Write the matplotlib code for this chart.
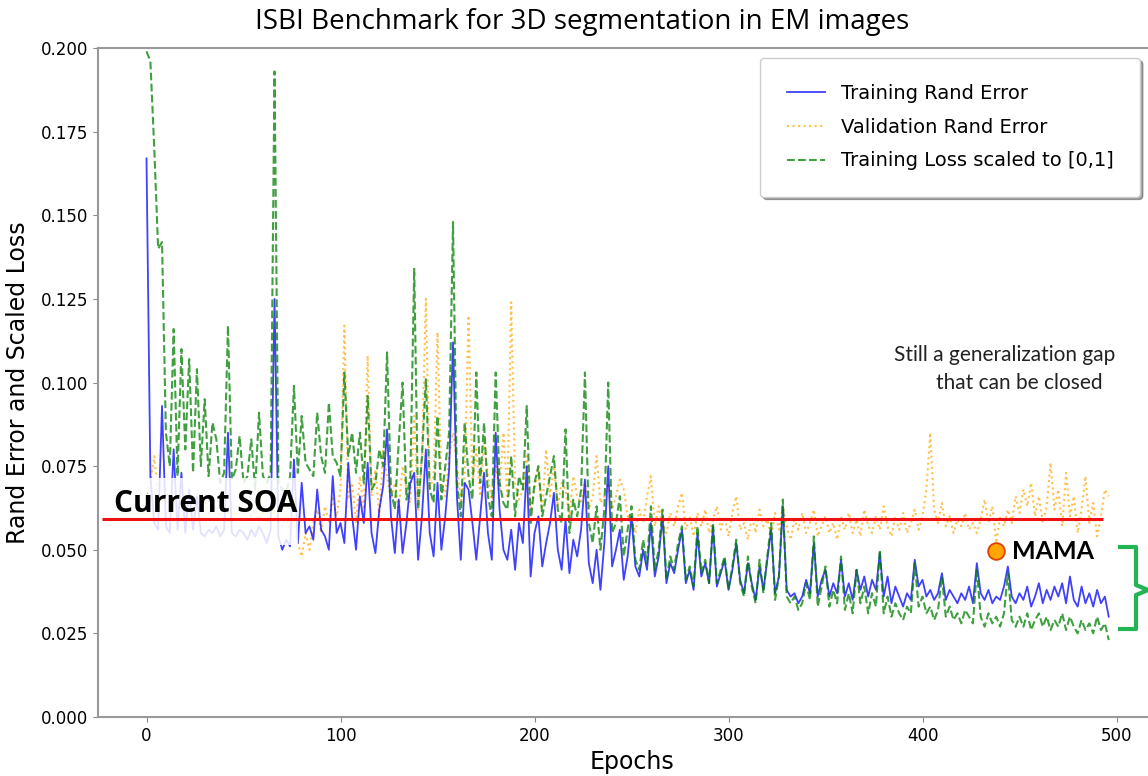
import numpy as np
import matplotlib
matplotlib.use("Agg")
import matplotlib.pyplot as plt
from matplotlib.patches import Rectangle
from matplotlib.lines import Line2D

# epochs sampled every 2
epochs = np.arange(0, 498, 2)

train_rand = [
    0.167, 0.072, 0.058, 0.056, 0.093, 0.057, 0.055, 0.080, 0.056, 0.073, 0.055, 0.068, 0.056, 0.066, 0.055, 0.054, 0.056, 0.055, 0.057, 0.054, 0.056, 0.085, 0.055, 0.054, 0.056,
    0.055, 0.053, 0.056, 0.054, 0.057, 0.055, 0.052, 0.056, 0.125, 0.054, 0.050, 0.053, 0.051, 0.077, 0.052, 0.070, 0.055, 0.057, 0.053, 0.068, 0.056, 0.054, 0.050, 0.072, 0.055,
    0.058, 0.052, 0.076, 0.060, 0.050, 0.066, 0.058, 0.076, 0.055, 0.049, 0.062, 0.069, 0.086, 0.060, 0.049, 0.065, 0.049, 0.058, 0.070, 0.073, 0.047, 0.060, 0.080, 0.055, 0.048,
    0.070, 0.050, 0.060, 0.074, 0.112, 0.066, 0.047, 0.070, 0.068, 0.058, 0.047, 0.060, 0.073, 0.055, 0.047, 0.085, 0.062, 0.050, 0.047, 0.056, 0.044, 0.058, 0.052, 0.075, 0.042,
    0.055, 0.060, 0.045, 0.052, 0.058, 0.067, 0.050, 0.044, 0.059, 0.043, 0.053, 0.048, 0.056, 0.071, 0.046, 0.040, 0.050, 0.038, 0.052, 0.075, 0.045, 0.050, 0.056, 0.041, 0.048,
    0.060, 0.045, 0.042, 0.050, 0.044, 0.058, 0.042, 0.048, 0.060, 0.040, 0.046, 0.043, 0.050, 0.056, 0.040, 0.044, 0.038, 0.055, 0.042, 0.046, 0.040, 0.057, 0.039, 0.043, 0.047,
    0.038, 0.044, 0.052, 0.041, 0.037, 0.046, 0.040, 0.035, 0.045, 0.038, 0.047, 0.056, 0.037, 0.042, 0.063, 0.038, 0.036, 0.037, 0.034, 0.036, 0.041, 0.037, 0.052, 0.036, 0.041,
    0.044, 0.036, 0.040, 0.037, 0.047, 0.036, 0.040, 0.035, 0.044, 0.038, 0.042, 0.036, 0.041, 0.038, 0.049, 0.036, 0.042, 0.034, 0.039, 0.036, 0.033, 0.037, 0.035, 0.047, 0.039,
    0.041, 0.036, 0.038, 0.035, 0.037, 0.043, 0.035, 0.038, 0.036, 0.034, 0.037, 0.035, 0.039, 0.034, 0.046, 0.037, 0.035, 0.038, 0.034, 0.036, 0.035, 0.039, 0.045, 0.036, 0.034,
    0.037, 0.035, 0.039, 0.033, 0.036, 0.040, 0.034, 0.038, 0.035, 0.039, 0.036, 0.040, 0.034, 0.042, 0.035, 0.033, 0.039, 0.034, 0.037, 0.033, 0.038, 0.034, 0.036, 0.030,
]

val_rand = [
    0.065, 0.070, 0.078, 0.066, 0.064, 0.068, 0.063, 0.066, 0.062, 0.065, 0.064, 0.061, 0.066, 0.063, 0.062, 0.065, 0.061, 0.064, 0.062, 0.060, 0.063, 0.061, 0.064, 0.060, 0.062,
    0.061, 0.063, 0.060, 0.062, 0.059, 0.061, 0.058, 0.060, 0.062, 0.058, 0.057, 0.060, 0.056, 0.060, 0.052, 0.048, 0.055, 0.050, 0.058, 0.062, 0.055, 0.063, 0.058, 0.066, 0.060,
    0.068, 0.117, 0.065, 0.070, 0.058, 0.072, 0.062, 0.108, 0.066, 0.074, 0.060, 0.080, 0.072, 0.065, 0.070, 0.062, 0.075, 0.068, 0.064, 0.090, 0.062, 0.078, 0.125, 0.068, 0.072,
    0.115, 0.070, 0.066, 0.078, 0.085, 0.076, 0.064, 0.072, 0.120, 0.070, 0.080, 0.066, 0.082, 0.072, 0.064, 0.075, 0.068, 0.085, 0.066, 0.124, 0.070, 0.065, 0.068, 0.078, 0.062,
    0.068, 0.074, 0.062, 0.080, 0.066, 0.075, 0.063, 0.070, 0.068, 0.060, 0.072, 0.066, 0.064, 0.070, 0.062, 0.066, 0.078, 0.064, 0.066, 0.070, 0.062, 0.066, 0.071, 0.068, 0.060,
    0.060, 0.055, 0.062, 0.058, 0.066, 0.072, 0.057, 0.063, 0.058, 0.055, 0.061, 0.057, 0.063, 0.067, 0.056, 0.060, 0.054, 0.061, 0.057, 0.062, 0.055, 0.059, 0.063, 0.056, 0.060,
    0.054, 0.061, 0.066, 0.056, 0.058, 0.053, 0.060, 0.055, 0.062, 0.057, 0.059, 0.054, 0.061, 0.056, 0.063, 0.057, 0.053, 0.059, 0.056, 0.061, 0.055, 0.058, 0.062, 0.054, 0.057,
    0.060, 0.055, 0.058, 0.053, 0.060, 0.056, 0.061, 0.055, 0.059, 0.054, 0.062, 0.057, 0.055, 0.060, 0.056, 0.063, 0.057, 0.054, 0.060, 0.056, 0.061, 0.055, 0.058, 0.062, 0.056,
    0.060, 0.068, 0.085, 0.062, 0.058, 0.064, 0.057, 0.060, 0.055, 0.059, 0.057, 0.061, 0.056, 0.058, 0.055, 0.059, 0.065, 0.058, 0.063, 0.052, 0.060, 0.057, 0.062, 0.058, 0.066,
    0.061, 0.068, 0.063, 0.070, 0.060, 0.066, 0.058, 0.063, 0.076, 0.062, 0.068, 0.057, 0.073, 0.060, 0.066, 0.055, 0.062, 0.072, 0.058, 0.064, 0.054, 0.060, 0.068, 0.066,
]

train_loss = [
    0.199, 0.196, 0.170, 0.140, 0.142, 0.085, 0.075, 0.116, 0.072, 0.110, 0.080, 0.107, 0.073, 0.104, 0.075, 0.095, 0.072, 0.088, 0.083, 0.070, 0.073, 0.117, 0.071, 0.074, 0.084,
    0.070, 0.072, 0.083, 0.068, 0.091, 0.072, 0.070, 0.073, 0.193, 0.070, 0.068, 0.067, 0.072, 0.099, 0.073, 0.090, 0.076, 0.074, 0.072, 0.091, 0.078, 0.073, 0.094, 0.078, 0.076,
    0.072, 0.103, 0.078, 0.085, 0.073, 0.085, 0.070, 0.096, 0.068, 0.070, 0.080, 0.075, 0.109, 0.068, 0.062, 0.082, 0.100, 0.065, 0.072, 0.134, 0.062, 0.078, 0.101, 0.068, 0.064,
    0.090, 0.065, 0.075, 0.085, 0.148, 0.070, 0.060, 0.088, 0.072, 0.065, 0.103, 0.070, 0.088, 0.066, 0.060, 0.103, 0.070, 0.064, 0.062, 0.078, 0.060, 0.072, 0.068, 0.093, 0.058,
    0.070, 0.075, 0.060, 0.066, 0.072, 0.078, 0.062, 0.058, 0.086, 0.055, 0.065, 0.060, 0.068, 0.103, 0.058, 0.052, 0.063, 0.050, 0.062, 0.100, 0.055, 0.058, 0.066, 0.048, 0.056,
    0.063, 0.047, 0.044, 0.053, 0.046, 0.063, 0.044, 0.050, 0.062, 0.041, 0.048, 0.044, 0.052, 0.057, 0.041, 0.045, 0.039, 0.057, 0.043, 0.047, 0.040, 0.058, 0.040, 0.044, 0.048,
    0.038, 0.045, 0.053, 0.040, 0.036, 0.048, 0.039, 0.034, 0.047, 0.037, 0.048, 0.058, 0.035, 0.042, 0.065, 0.036, 0.034, 0.036, 0.032, 0.034, 0.040, 0.035, 0.054, 0.033, 0.039,
    0.045, 0.033, 0.038, 0.034, 0.048, 0.032, 0.037, 0.031, 0.044, 0.034, 0.039, 0.031, 0.037, 0.033, 0.050, 0.031, 0.036, 0.030, 0.034, 0.031, 0.029, 0.033, 0.031, 0.046, 0.033,
    0.036, 0.031, 0.033, 0.029, 0.032, 0.042, 0.030, 0.033, 0.029, 0.031, 0.028, 0.032, 0.030, 0.028, 0.044, 0.030, 0.027, 0.031, 0.028, 0.030, 0.027, 0.031, 0.043, 0.029, 0.027,
    0.030, 0.027, 0.031, 0.026, 0.029, 0.031, 0.027, 0.030, 0.026, 0.029, 0.027, 0.031, 0.026, 0.030, 0.027, 0.025, 0.029, 0.026, 0.028, 0.025, 0.030, 0.026, 0.028, 0.023,
]

soa_value = 0.0592
soa_span = [-23, 493]
mama_epoch = [438]
mama_value = [0.0496]

W, H = 1148, 776
fig = plt.figure(figsize=(W / 100, H / 100), dpi=100)
# axes runs past the right edge of the picture (original is cropped)
ax = fig.add_axes([98 / W, 59 / H, 1067 / W, 669 / H])

ax.plot(epochs, val_rand, color="orange", ls=":", lw=1.5, alpha=0.7, label="Validation Rand Error", zorder=2)
ax.plot(epochs, train_rand, color="blue", ls="-", lw=1.3, alpha=0.75, label="Training Rand Error", zorder=3)
ax.plot(epochs, train_loss, color="green", ls="--", lw=1.5, alpha=0.75, label="Training Loss scaled to [0,1]", zorder=4)

# washed-out patch behind the label
ax.add_patch(Rectangle((1, 0.0515), 77, 0.0200, facecolor="white", edgecolor="none", alpha=0.85, zorder=5))
ax.hlines(soa_value, soa_span[0], soa_span[1], color="#ee1111", lw=2.2, zorder=6)
ax.text(-17, 0.0612, "Current SOA", fontsize=21.5, fontweight="bold", family="Open Sans", color="black", zorder=7)

ax.plot(mama_epoch, mama_value, "o", ms=12, mfc="#ffa500", mec="#e04000", mew=1.3, zorder=7)
ax.text(446, mama_value[0], "MAMA", fontsize=18, fontweight="bold", family="Lato", va="center", zorder=7)

ax.set_xlim(-25, 525)
ax.set_ylim(0, 0.2)
ax.set_xticks([0, 100, 200, 300, 400, 500])
ax.set_yticks(np.arange(0, 0.201, 0.025))
ax.set_yticklabels(["%.3f" % v for v in np.arange(0, 0.201, 0.025)])
ax.tick_params(labelsize=12, color="#888888")
for s in ax.spines.values():
    s.set_color("#999999")
    s.set_linewidth(1.5)

ax.set_xlabel("Epochs", fontsize=17, labelpad=4)
ax.set_ylabel("Rand Error and Scaled Loss", fontsize=17, labelpad=8)
fig.text(582 / W, 1 - 22 / H, "ISBI Benchmark for 3D segmentation in EM images",
         fontsize=20, family="Open Sans", ha="center", va="center")

handles, labels = ax.get_legend_handles_labels()
order = [1, 0, 2]
leg = ax.legend([handles[i] for i in order], [labels[i] for i in order],
                loc="upper right", bbox_to_anchor=(1140 / W, 1 - 58 / H),
                bbox_transform=fig.transFigure, borderaxespad=0, fontsize=14,
                frameon=True, shadow=True, fancybox=True, labelspacing=0.75,
                borderpad=1.35, handlelength=2.0)
leg.get_frame().set_edgecolor("#cccccc")

fig.text(1005 / W, 1 - 355 / H, "Still a generalization gap", fontsize=15, family="Lato", ha="center", va="center", color="#222222")
fig.text(1019 / W, 1 - 383 / H, "that can be closed", fontsize=15, family="Lato", ha="center", va="center", color="#222222")

# curly bracket on the right
bx = [1120, 1136, 1136, 1148, 1136, 1136, 1120]
by = [547, 547, 585, 590, 595, 629, 629]
fig.add_artist(Line2D([x / W for x in bx], [1 - y / H for y in by], color="#22b455", lw=3,
                      transform=fig.transFigure))

fig.savefig("out.png", dpi=100)
